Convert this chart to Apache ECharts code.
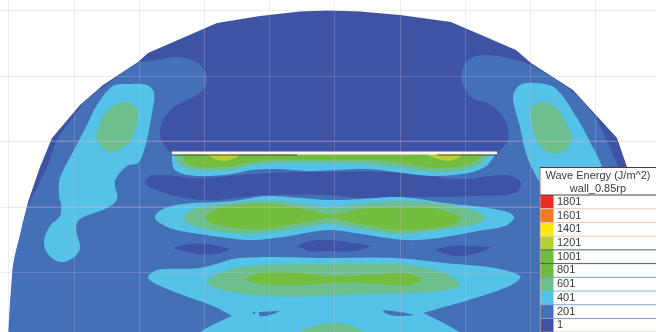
<!DOCTYPE html>
<html>
<head>
<meta charset="utf-8">
<style>html,body{margin:0;padding:0;background:#fff}#c{width:656px;height:332px;filter:blur(0.5px)}</style>
<script src="https://cdn.jsdelivr.net/npm/echarts@6/dist/echarts.min.js"></script>
</head>
<body>
<div id="c"></div>
<script>
// ---- data (contour outlines in plot units) ----
const levelLabels = ['1801','1601','1401','1201','1001','801','601','401','201','1'];
const levelColors = ['#ee2c27','#f37a22','#fde910','#b4d233','#6fbc42','#6fbc42','#6dc08d','#55c2e7','#4470b8','#3f53a4'];
const rowLineColors = ['#f0c8b8','#f0c8b8','#f0c8b8','#4a6a70','#3a6a50','#6aa8a8','#7ab8d0','#70a8c8','#90a0c8','#c8a898'];
const C1 = '#3f53a4', C201 = '#4470b8', C401 = '#55c2e7', C601 = '#6dc08d', C801 = '#72bd3e', C1201 = '#b9d02f';

const gridX = [8,74,139,204,269,334,400,465,530,595];
const gridY = [10,76,141,207,272];
const strongGridY = [141,207];

const dome = [[8,340],[13,266],[28,202],[40,167],[52,138],[80,105],[103,85],[138,62],[148,53],[217,23],[260,16],[300,11.5],[328,10.5],[360,11.5],[400,15],[451,22],[516,50],[531,63],[573,90],[617,138],[627,167],[640,240],[650,340]];
const region201 = [[8,340],[8,340],[13,266],[20,235],[27,208],[37,188],[48,165],[58,138],[75,115],[85,101],[103,87],[138,63],[150,61],[180,57],[200,65],[207,80],[200,93],[177,105],[163,120],[160,137],[170,152],[170,152],[496,154],[496,154],[508,140],[505,120],[491,105],[471,97],[461,77],[468,60],[485,55],[508,58],[531,65],[573,92],[590,110],[597,120],[610,148],[618,167],[632,240],[650,340],[650,340]];
const band1A = [[145,183],[153,175],[200,178],[267,173],[328,172],[395,172],[461,179],[508,175],[521,183],[515,193],[478,196],[428,197],[361,198],[328,195],[267,195],[207,200],[167,194]];
const lens1 = [[173,248],[173,248],[190,244],[213,245],[230,249],[230,249],[217,254],[197,254]];
const lens2 = [[297,246],[297,246],[310,241],[328,240],[348,242],[371,246],[371,246],[355,251],[328,251],[310,251]];
const lens3 = [[436,250],[451,246],[491,247],[491,247],[478,253],[461,256],[445,254]];

const blob401L = [[113,86],[130,84],[147,85],[154,93],[152,113],[145,147],[138,163],[127,166],[115,181],[117,199],[107,208],[80,219],[76,229],[80,248],[73,258],[60,262],[48,254],[44,241],[50,226],[60,216],[61,205],[59,195],[60,178],[75,148],[87,125],[97,105]];
const blob401R = [[513,97],[520,85],[535,83],[555,88],[577,118],[590,142],[602,167],[610,200],[570,215],[545,190],[531,166],[525,150],[520,127]];
const lobeTop401 = [[172,152],[172,152],[172,162],[175,170],[188,175],[208,176],[232,174],[252,170],[278,169],[308,171],[335,170],[368,169],[402,173],[435,176],[468,173],[485,167],[493,158],[497,153],[497,153]];
const lobeMid401 = [[155,216],[163,209],[183,204],[233,201],[267,196],[328,200],[361,199],[401,197],[445,203],[488,208],[510,213],[514,218],[505,226],[478,231],[438,238],[405,240],[361,234],[328,230],[283,237],[250,240],[213,236],[173,229],[157,221]];
const lobeLow401 = [[148,278],[157,270],[200,268],[240,258],[328,258],[395,258],[445,263],[495,268],[520,276],[515,283],[488,294],[423,313],[423,313],[461,333],[470,345],[470,345],[190,345],[190,345],[200,332],[232,316],[232,316],[213,306],[167,289]];

const blob601L = [[125,102],[136,107],[137,123],[128,143],[110,152],[97,140],[100,123],[110,108]];
const blob601R = [[531,110],[541,102],[555,107],[566,123],[571,137],[566,150],[551,153],[538,143],[533,127]];
const lobeTop601 = [[175,154],[175,154],[175,157],[180,165],[195,170],[232,170],[252,165],[278,163],[335,163],[368,164],[402,168],[435,172],[462,170],[482,163],[490,154],[490,154]];
const lobeMid601 = [[183,218],[197,208],[267,201],[328,207],[361,204],[401,201],[445,204],[475,211],[485,218],[475,224],[445,229],[401,234],[361,229],[328,224],[283,231],[250,234],[213,231],[190,224]];
const lobeLow601 = [[207,283],[217,274],[250,266],[328,264],[395,264],[438,271],[460,283],[451,289],[411,293],[361,294],[328,296],[267,296],[227,291]];
const mound601 = [[290,340],[290,340],[305,329],[333,323],[355,327],[375,340],[375,340]];

const lobeTop801 = [[182,154],[182,154],[185,162],[198,167],[232,166],[252,162],[278,160],[335,160],[368,160],[402,163],[435,168],[462,166],[477,160],[482,154],[482,154]];
const lobeMid801 = [[205,218],[217,209],[253,204],[283,205],[328,215],[328,215],[335,214],[361,209],[401,207],[438,209],[461,218],[448,226],[401,230],[361,224],[335,219],[328,218],[328,218],[283,226],[253,229],[217,225]];
const lobeLow801 = [[246,279],[260,273],[300,273],[328,276],[361,275],[395,273],[411,274],[421,280],[411,285],[361,283],[328,283],[300,285],[260,284]];

const spot1201A = [[205,154],[205,154],[215,159],[225,161],[235,158],[241,154],[241,154]];
const spot1201B = [[427,154],[427,154],[435,158],[448,161],[458,158],[463,154],[463,154]];

const sliver1 = [[259,312],[259,312],[280,311],[280,311],[270,315],[260,316]];
const sliver2 = [[383,310],[383,310],[400,312],[415,315],[415,315],[397,316],[385,313]];
const speck1 = [[253,312],[255,312],[255,314],[253,314]];

const wallWhite = [[172,153],[497,153]];
const wallBlackA = [[172,155],[297,155]];
const wallBlackB = [[437,155],[497,155]];

// paint order, bottom to top; third flag = rounded outline
const layers = [
  [dome, C1, false],[region201, C201, true],
  [band1A, C1, true],[lens1, C1, true],[lens2, C1, true],[lens3, C1, true],
  [blob401L, C401, true],[blob401R, C401, true],[lobeTop401, C401, true],[lobeMid401, C401, true],[lobeLow401, C401, true],
  [sliver1, C201, true],[sliver2, C201, true],[speck1, C201, false],
  [blob601L, C601, true],[blob601R, C601, true],[lobeTop601, C601, true],[lobeMid601, C601, true],[lobeLow601, C601, true],[mound601, C601, true],
  [lobeTop801, C801, true],[lobeMid801, C801, true],[lobeLow801, C801, true],
  [spot1201A, C1201, true],[spot1201B, C1201, true]
];
const wallLines = [[wallWhite,'#fff6f4',3],[wallBlackA,'rgba(30,40,50,0.75)',1],[wallBlackB,'rgba(30,40,50,0.75)',1]];

// rounded closed outline through the read-off vertices (repeat a vertex for a corner)
function roundOutline(pts){
  const n = pts.length, out = [];
  const dist = (p,q)=>Math.hypot(p[0]-q[0],p[1]-q[1]);
  const tangent = (a,b,c,len)=>{
    const ab=dist(a,b), bc=dist(b,c);
    if(ab===0||bc===0) return [0,0];
    return [(c[0]-a[0])*len/(ab+bc),(c[1]-a[1])*len/(ab+bc)];
  };
  for(let i=0;i<n;i++){
    const a=pts[(i-1+n)%n], b=pts[i], c=pts[(i+1)%n], d=pts[(i+2)%n];
    const len=dist(b,c);
    if(len===0) continue;
    const m1=tangent(a,b,c,len), m2=tangent(b,c,d,len);
    for(let k=0;k<10;k++){
      const t=k/10,t2=t*t,t3=t2*t;
      const h00=2*t3-3*t2+1,h10=t3-2*t2+t,h01=-2*t3+3*t2,h11=t3-t2;
      out.push([0,1].map(j=>h00*b[j]+h10*m1[j]+h01*c[j]+h11*m2[j]));
    }
  }
  return out;
}

// ---- chart ----
const chart = echarts.init(document.getElementById('c'), null, {renderer:'canvas'});
const LX = 540, LY = 167.5, LW = 118, HEAD = 27.5, RH = 13.72, SW = 13;
const legendGraphics = [
  {type:'rect', z:50, shape:{x:LX,y:LY,width:LW,height:HEAD+RH*10+2}, style:{fill:'#fff',stroke:'#b8705c',lineWidth:1}},
  {type:'line', z:52, shape:{x1:LX,y1:LY,x2:LX+LW,y2:LY}, style:{stroke:'#4a3a3a',lineWidth:1}},
  {type:'text', z:51, style:{x:LX+58,y:LY+8.5,text:'Wave Energy (J/m^2)',fill:'#3a3a3a',font:'11px "Liberation Sans"',textAlign:'center',textVerticalAlign:'middle'}},
  {type:'text', z:51, style:{x:LX+58,y:LY+21.5,text:'wall_0.85rp',fill:'#3a3a3a',font:'11px "Liberation Sans"',textAlign:'center',textVerticalAlign:'middle'}},
  {type:'line', z:52, shape:{x1:LX,y1:LY+HEAD,x2:LX+LW,y2:LY+HEAD}, style:{stroke:'#5a3a38',lineWidth:1}}
];
levelLabels.forEach((t,i)=>{
  const y = LY+HEAD+RH*i;
  legendGraphics.push(
    {type:'rect', z:51, shape:{x:LX+0.5,y:y,width:SW,height:RH}, style:{fill:levelColors[i]}},
    {type:'line', z:52, shape:{x1:LX,y1:y+RH,x2:LX+LW,y2:y+RH}, style:{stroke:rowLineColors[i],lineWidth:1}},
    {type:'text', z:53, style:{x:LX+17,y:y+RH/2,text:t,fill:'#3a3a3a',font:'11px "Liberation Sans"',textAlign:'left',textVerticalAlign:'middle'}}
  );
});
const axisCommon = {
  type:'value', min:0, axisLine:{show:false}, axisLabel:{show:false}, z:5,
  splitLine:{show:true, lineStyle:{color:'rgba(200,185,215,0.27)',width:1}}
};
chart.setOption({
  animation:false,
  backgroundColor:'#fff',
  grid:{left:0,right:0,top:0,bottom:0},
  xAxis:Object.assign({},axisCommon,{max:656,axisTick:{show:false,customValues:gridX}}),
  yAxis:Object.assign({},axisCommon,{max:332,inverse:true,axisTick:{show:false,customValues:gridY}}),
  graphic:legendGraphics,
  series:[
    {type:'custom', name:'contours', coordinateSystem:'cartesian2d', z:1, clip:true, silent:true,
     data:layers.map((l,i)=>[i]),
     renderItem:(p,api)=>{
       const l = layers[api.value(0)];
       const pts = l[2] ? roundOutline(l[0]) : l[0];
       return {type:'polygon', shape:{points:pts.map(q=>api.coord(q))}, style:{fill:l[1]}};
     }},
    {type:'custom', name:'strongGrid', coordinateSystem:'cartesian2d', z:7, silent:true,
     data:strongGridY.map(v=>[v]),
     renderItem:(p,api)=>{
       const a = api.coord([8,api.value(0)]), b = api.coord([656,api.value(0)]);
       return {type:'line', shape:{x1:a[0],y1:a[1],x2:b[0],y2:b[1]}, style:{stroke:'rgba(240,190,205,0.3)',lineWidth:1}};
     }},
    {type:'custom', name:'wall', coordinateSystem:'cartesian2d', z:8, silent:true,
     data:wallLines.map((l,i)=>[i]),
     renderItem:(p,api)=>{
       const l = wallLines[api.value(0)];
       return {type:'polyline', shape:{points:l[0].map(q=>api.coord(q))}, style:{stroke:l[1],lineWidth:l[2],fill:null}};
     }}
  ]
});
</script>
</body>
</html>
